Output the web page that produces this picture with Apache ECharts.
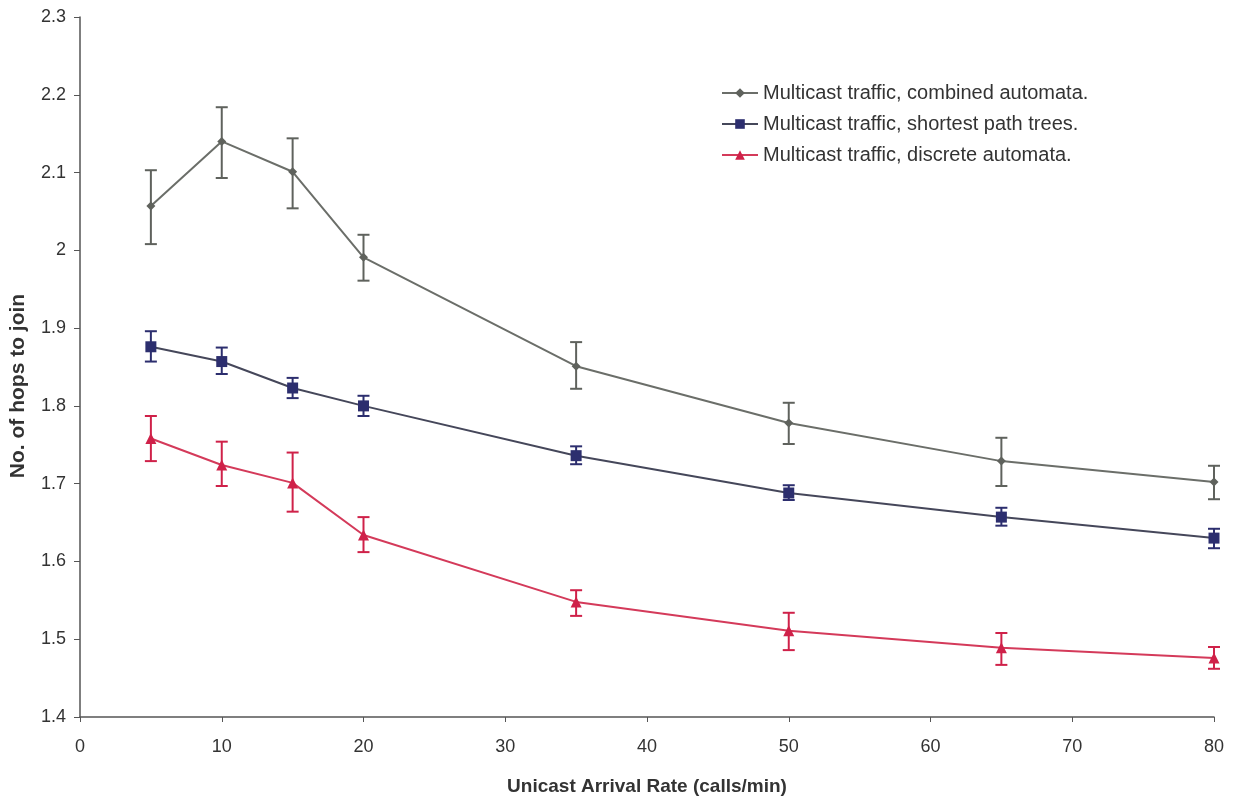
<!DOCTYPE html>
<html><head><meta charset="utf-8">
<script src="https://cdn.jsdelivr.net/npm/echarts@6/dist/echarts.min.js"></script>
<style>html,body{margin:0;padding:0;background:#fff}#c{width:1240px;height:801px}</style>
</head><body><div id="c"></div>
<script>
const xValues = [5, 10, 15, 20, 35, 50, 65, 80];
const seriesNames = ['Multicast traffic, combined automata.', 'Multicast traffic, shortest path trees.', 'Multicast traffic, discrete automata.'];
const combined = [2.057, 2.140, 2.101, 1.991, 1.851, 1.778, 1.729, 1.702];
const combinedLow = [2.008, 2.093, 2.054, 1.961, 1.822, 1.751, 1.697, 1.680];
const combinedHigh = [2.103, 2.184, 2.144, 2.020, 1.882, 1.804, 1.759, 1.723];
const shortest = [1.876, 1.857, 1.823, 1.800, 1.736, 1.688, 1.657, 1.630];
const shortestLow = [1.857, 1.841, 1.810, 1.787, 1.725, 1.679, 1.646, 1.617];
const shortestHigh = [1.896, 1.875, 1.836, 1.813, 1.748, 1.698, 1.669, 1.642];
const discrete = [1.758, 1.724, 1.701, 1.634, 1.548, 1.511, 1.489, 1.476];
const discreteLow = [1.729, 1.697, 1.664, 1.612, 1.530, 1.486, 1.467, 1.462];
const discreteHigh = [1.787, 1.754, 1.740, 1.657, 1.563, 1.534, 1.508, 1.490];
const xTicks = [0, 10, 20, 30, 40, 50, 60, 70, 80];
const yTicks = [1.4, 1.5, 1.6, 1.7, 1.8, 1.9, 2, 2.1, 2.2, 2.3];

const font = 'Liberation Sans, Arial, Helvetica, sans-serif';
const colors = {
  combined: { line: '#6b6e69', mark: '#5f625d' },
  shortest: { line: '#45475a', mark: '#2c2e6e' },
  discrete: { line: '#d43a5a', mark: '#cf2149' }
};

function lineSeries(name, vals, c, symbol, size) {
  return {
    name: name, type: 'line', z: 3,
    data: xValues.map((x, i) => [x, vals[i]]),
    symbol: symbol, symbolSize: size,
    lineStyle: { color: c.line, width: 2 },
    itemStyle: { color: c.mark },
    emphasis: { disabled: true }
  };
}
function errSeries(low, high, color) {
  return {
    type: 'custom', z: 2, silent: true,
    data: xValues.map((x, i) => [x, low[i], high[i]]),
    renderItem: function (params, api) {
      const p1 = api.coord([api.value(0), api.value(1)]);
      const p2 = api.coord([api.value(0), api.value(2)]);
      const w = 6;
      const st = { stroke: color, lineWidth: 2, fill: null };
      return { type: 'group', children: [
        { type: 'line', shape: { x1: p1[0], y1: p1[1], x2: p2[0], y2: p2[1] }, style: st },
        { type: 'line', shape: { x1: p1[0] - w, y1: p1[1], x2: p1[0] + w, y2: p1[1] }, style: st },
        { type: 'line', shape: { x1: p2[0] - w, y1: p2[1], x2: p2[0] + w, y2: p2[1] }, style: st }
      ]};
    }
  };
}

const chart = echarts.init(document.getElementById('c'));
chart.setOption({
  animation: false,
  backgroundColor: '#fff',
  textStyle: { fontFamily: font },
  grid: { left: 80, right: 26, top: 17, bottom: 84, containLabel: false, outerBoundsMode: 'none' },
  legend: {
    orient: 'vertical', left: 716, top: 78, itemGap: 11, itemWidth: 36, itemHeight: 12,
    textStyle: { fontSize: 20, color: '#333', fontFamily: font },
    data: seriesNames
  },
  xAxis: {
    type: 'value', min: 0, max: 80, interval: 10,
    name: 'Unicast Arrival Rate (calls/min)', nameLocation: 'middle', nameGap: 60,
    nameTextStyle: { fontSize: 19, fontWeight: 'bold', color: '#333', fontFamily: font },
    axisLine: { lineStyle: { color: '#555', width: 1.5 } },
    axisTick: { show: true, length: 5, lineStyle: { color: '#555' } },
    axisLabel: { fontSize: 18, color: '#333', margin: 21, formatter: v => xTicks.includes(v) ? String(v) : '' },
    splitLine: { show: false }
  },
  yAxis: {
    type: 'value', min: 1.4, max: 2.3, interval: 0.1,
    name: 'No. of hops to join', nameLocation: 'middle', nameGap: 51, nameRotate: 90,
    nameTextStyle: { fontSize: 21, fontWeight: 'bold', color: '#333', fontFamily: font, padding: [0, 38, 0, 0] },
    axisLine: { show: true, lineStyle: { color: '#555', width: 1.5 } },
    axisTick: { show: true, length: 6, lineStyle: { color: '#555' } },
    axisLabel: { fontSize: 18, color: '#333', margin: 14,
      formatter: v => { const t = yTicks.find(y => Math.abs(y - v) < 1e-6); return t === undefined ? '' : String(t); } },
    splitLine: { show: false }
  },
  series: [
    errSeries(combinedLow, combinedHigh, colors.combined.mark),
    errSeries(shortestLow, shortestHigh, colors.shortest.mark),
    errSeries(discreteLow, discreteHigh, colors.discrete.mark),
    lineSeries(seriesNames[0], combined, colors.combined, 'diamond', 9),
    lineSeries(seriesNames[1], shortest, colors.shortest, 'rect', 11),
    lineSeries(seriesNames[2], discrete, colors.discrete, 'triangle', 11)
  ]
});
</script></body></html>
